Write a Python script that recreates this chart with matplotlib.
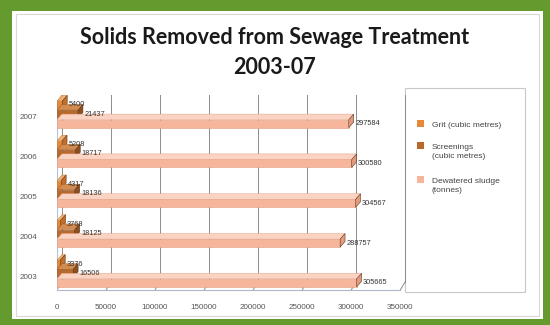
import matplotlib
matplotlib.use("Agg")
import matplotlib.pyplot as plt
from matplotlib.patches import Rectangle, Polygon
from matplotlib.lines import Line2D

# ---- data -------------------------------------------------------------
years = ["2003", "2004", "2005", "2006", "2007"]
grit = [3376, 3768, 4317, 5208, 5400]                 # cubic metres
screenings = [16506, 18125, 18136, 18717, 21437]      # cubic metres
sludge = [305665, 288757, 304567, 300580, 297584]     # tonnes
x_ticks = [0, 50000, 100000, 150000, 200000, 250000, 300000, 350000]

series_names = ["Grit (cubic metres)", "Screenings\n(cubic metres)",
                "Dewatered sludge\n(tonnes)"]
front_cols = ["#E8893A", "#B9692C", "#F7B69C"]
top_cols = ["#F2AE70", "#D48B4E", "#FBD3C2"]
side_cols = ["#C46E28", "#8E4E1E", "#E49A7E"]

W, H = 550, 325
fig = plt.figure(figsize=(W / 100, H / 100), dpi=100)
fig.patch.set_facecolor("#659A2F")

def fx(px):
    return px / W

def fy(py):
    return 1 - py / H

# white panel and the thin chart-area border
fig.patches.append(Rectangle((fx(12), fy(319)), fx(531), 308 / H,
                             transform=fig.transFigure, facecolor="white",
                             edgecolor="none", zorder=-2))
fig.patches.append(Rectangle((fx(16), fy(316)), fx(523), 302 / H,
                             transform=fig.transFigure, facecolor="none",
                             edgecolor="#D9D9D9", lw=0.8, zorder=-1))

# title
fig.text(0.5, fy(38), "Solids Removed from Sewage Treatment", ha="center",
         va="center", fontsize=15.5, fontweight="bold", family="Lato",
         color="#1A1A1A")
fig.text(0.5, fy(67), "2003-07", ha="center", va="center", fontsize=15.5,
         fontweight="bold", family="Lato", color="#1A1A1A")

ax = fig.add_axes([fx(57), fy(290), fx(410 - 57), (290 - 95) / H])
ax.set_zorder(5)
ax.set_facecolor("none")
ax.set_xlim(0, 360000)
ax.set_ylim(-0.35, 4.55)
for s in ax.spines.values():
    s.set_visible(False)

# back wall gridlines and floor (3-D look)
wdx, wdy = 5000, 0.2
ybot, ytop = -0.35, 4.55
for t in x_ticks:
    ax.add_line(Line2D([t + wdx, t + wdx], [ybot + wdy, ytop], color="#8C8C8C",
                       lw=0.7, zorder=1))
    ax.add_line(Line2D([t, t + wdx], [ybot, ybot + wdy], color="#8C8C8C",
                       lw=0.7, zorder=1))
ax.add_line(Line2D([0, x_ticks[-1]], [ybot, ybot], color="#B0B8C8", lw=0.8,
                   zorder=1, clip_on=False))
ax.add_line(Line2D([0, 0], [ybot, ytop - wdy], color="#B0C0D8", lw=0.8,
                   zorder=1))
ax.add_line(Line2D([0, wdx], [ytop - wdy, ytop], color="#B0C0D8", lw=0.8,
                   zorder=1))

# 3-D style horizontal bars
offsets = [0.30, 0.07, -0.17]
bh = 0.2
dx, dy = 5000, 0.14
all_series = [grit, screenings, sludge]
for k, vals in enumerate(all_series):
    for i, v in enumerate(vals):
        c = i + offsets[k]
        lo, hi = c - bh / 2, c + bh / 2
        ax.barh(c, v, height=bh, color=front_cols[k], edgecolor=side_cols[k],
                lw=0.4, zorder=3 + k)
        ax.add_patch(Polygon([(0, hi), (v, hi), (v + dx, hi + dy),
                              (dx, hi + dy)], closed=True,
                             facecolor=top_cols[k], edgecolor=side_cols[k],
                             lw=0.3, zorder=3 + k))
        ax.add_patch(Polygon([(v, lo), (v + dx, lo + dy), (v + dx, hi + dy),
                              (v, hi)], closed=True, facecolor=side_cols[k],
                             edgecolor="#5A3A20", lw=0.4, zorder=3 + k))
        ax.text(v + dx + 1500, c, f"{v}", fontsize=5.3, va="center",
                ha="left", color="#333333", family="Liberation Sans",
                zorder=10)

ax.set_yticks(range(len(years)))
ax.set_yticklabels(years)
ax.set_xticks(x_ticks)
ax.set_xticklabels([str(t) for t in x_ticks])
ax.tick_params(axis="both", length=0, labelsize=5.8, labelcolor="#555555")
ax.tick_params(axis="y", pad=14)
ax.tick_params(axis="x", pad=10)
for lab in ax.get_xticklabels() + ax.get_yticklabels():
    lab.set_family("Liberation Sans")

# legend box
fig.patches.append(Rectangle((fx(405), fy(292)), fx(120), 204 / H,
                             transform=fig.transFigure, facecolor="white",
                             edgecolor="#C8C8C8", lw=0.8, zorder=2))
leg_y = [122, 144, 178]
for k, name in enumerate(series_names):
    fig.patches.append(Rectangle((fx(417), fy(leg_y[k] + 5)), fx(7), 7 / H,
                                 transform=fig.transFigure,
                                 facecolor=front_cols[k], edgecolor="none",
                                 zorder=3))
    fig.text(fx(432), fy(leg_y[k]), name, ha="left", va="top",
             fontsize=6.0, color="#444444", family="Liberation Sans",
             linespacing=1.45)

fig.savefig("out.png", dpi=100, facecolor=fig.get_facecolor())
